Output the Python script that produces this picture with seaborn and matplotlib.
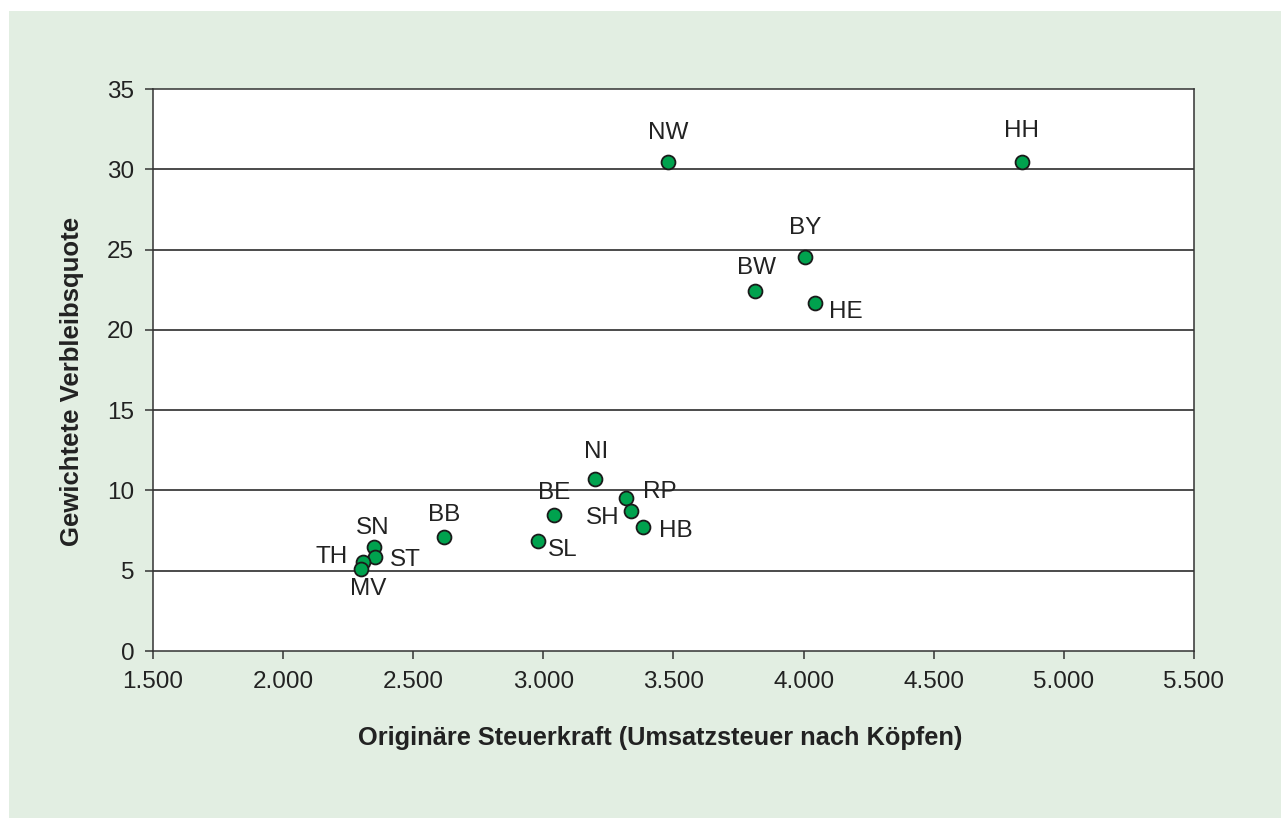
import matplotlib
matplotlib.use("Agg")
import matplotlib.pyplot as plt
import seaborn as sns
import pandas as pd
from matplotlib.patches import Rectangle
from matplotlib.ticker import FuncFormatter

# ---- data ----
states = ["NW", "HH", "BY", "BW", "HE", "NI", "BE", "SL", "RP", "SH", "HB", "BB", "SN", "ST", "TH", "MV"]
steuerkraft = [3479, 4839, 4005, 3813, 4044, 3198, 3041, 2979, 3317, 3337, 3383, 2618, 2349, 2353, 2307, 2299]
verbleibsquote = [30.45, 30.45, 24.53, 22.42, 21.67, 10.71, 8.47, 6.85, 9.53, 8.72, 7.72, 7.10, 6.45, 5.85, 5.54, 5.10]
x_ticks = [1500, 2000, 2500, 3000, 3500, 4000, 4500, 5000, 5500]
y_ticks = [0, 5, 10, 15, 20, 25, 30, 35]

# label offsets (pixels, right/down positive)
label_offsets_px = {
    "NW": (0, -29), "HH": (0, -31), "BY": (0, -29), "BW": (2, -23), "HE": (31, 9),
    "NI": (1, -27), "BE": (0, -22), "SL": (25, 9), "RP": (34, -6), "SH": (-28, 7),
    "HB": (33, 4), "BB": (0, -22), "SN": (-1, -19), "ST": (30, 3), "TH": (-31, -5),
    "MV": (7, 20),
}

df = pd.DataFrame({"state": states, "x": steuerkraft, "y": verbleibsquote})

sns.set_style("ticks")
plt.rcParams["font.family"] = ["Liberation Sans", "DejaVu Sans"]

W, H = 1281, 818
fig = plt.figure(figsize=(W / 100, H / 100), dpi=100, facecolor="white")
bg = Rectangle((9 / W, 0), 1 - 9 / W, 1 - 11 / H, transform=fig.transFigure,
               facecolor="#e2eee2", edgecolor="none", linewidth=0)
bg.set_zorder(-10)
fig.patches.append(bg)

ax = fig.add_axes([153 / W, 1 - 651 / H, (1194 - 153) / W, (651 - 89) / H])
ax.set_zorder(5)
ax.set_facecolor("white")

for yv in y_ticks[1:-1]:
    ax.axhline(yv, color="#1a1a1a", lw=1.1, zorder=1)

sns.scatterplot(data=df, x="x", y="y", ax=ax, s=100, color="#00a24e",
                edgecolor="#1a1a1a", linewidth=1.3, zorder=3, legend=False)

for st, xv, yv in zip(states, steuerkraft, verbleibsquote):
    dx, dy = label_offsets_px[st]
    ax.annotate(st, (xv, yv), xytext=(dx * 0.72, -dy * 0.72), textcoords="offset points",
                ha="center", va="center", fontsize=17.5, color="#222222", zorder=4)

ax.set_xlim(1500, 5500)
ax.set_ylim(0, 35)
ax.set_xticks(x_ticks)
ax.set_yticks(y_ticks)
ax.xaxis.set_major_formatter(FuncFormatter(lambda v, p: f"{int(v):,}".replace(",", ".")))
ax.tick_params(axis="both", labelsize=17.5, labelcolor="#222222", color="#333333",
               length=5.5, width=1.1, direction="out")
ax.tick_params(axis="x", pad=9)
ax.tick_params(axis="y", pad=8)

for sp in ax.spines.values():
    sp.set_visible(True)
    sp.set_color("#333333")
    sp.set_linewidth(1.1)

ax.set_xlabel("Originäre Steuerkraft (Umsatzsteuer nach Köpfen)", fontsize=18.3,
              fontweight="bold", color="#222222", va="center")
ax.set_ylabel("Gewichtete Verbleibsquote", fontsize=18.5, fontweight="bold",
              color="#222222", va="center")
ax.xaxis.set_label_coords(0.487, -0.155)
ax.yaxis.set_label_coords(-0.0778, 0.48)

fig.savefig("out.png", dpi=100, facecolor=fig.get_facecolor())
